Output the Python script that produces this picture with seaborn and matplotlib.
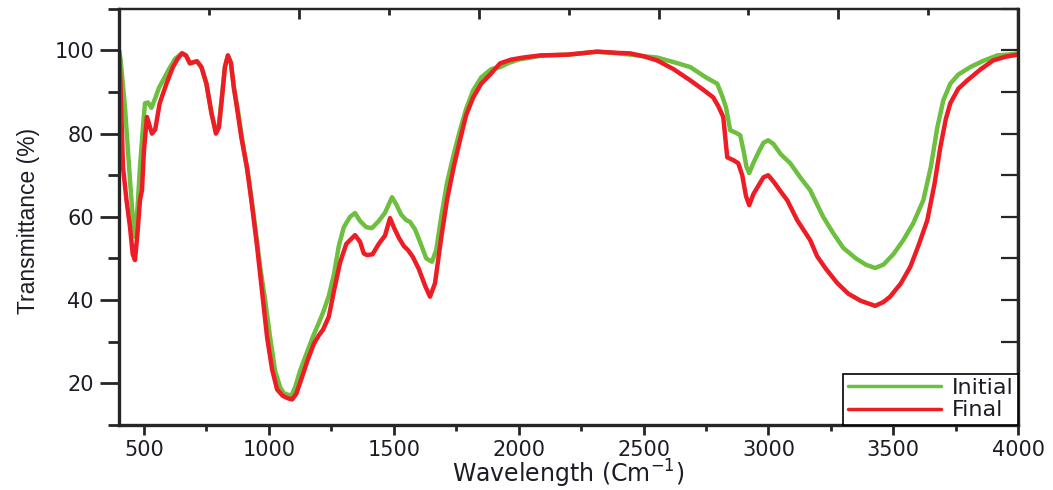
import numpy as np
import pandas as pd
import seaborn as sns
import matplotlib.pyplot as plt
from matplotlib.ticker import MultipleLocator

# FTIR spectra
wn_initial = [400, 406, 424, 444, 455, 464, 474, 484, 494, 504, 516, 530, 545, 560, 576,
              600, 625, 652, 668, 684, 700, 712, 730, 750, 770, 788, 800, 812, 824, 836,
              848, 860, 875, 885, 900, 920, 940, 965, 985, 1005, 1025, 1045, 1060, 1073,
              1090, 1105, 1125, 1150, 1175, 1200, 1217, 1240, 1260, 1280, 1300, 1325,
              1345, 1365, 1390, 1413, 1440, 1465, 1493, 1510, 1530, 1550, 1565, 1585,
              1605, 1630, 1653, 1670, 1690, 1713, 1740, 1765, 1790, 1818, 1850, 1890,
              1926, 1960, 2000, 2086, 2200, 2314, 2400, 2446, 2500, 2554, 2620, 2687,
              2750, 2795, 2815, 2830, 2847, 2870, 2887, 2900, 2912, 2923, 2940, 2960,
              2980, 2999, 3020, 3050, 3087, 3127, 3167, 3219, 3259, 3300, 3350, 3390,
              3427, 3460, 3500, 3540, 3580, 3620, 3650, 3676, 3700, 3728, 3760, 3808,
              3860, 3916, 3960, 4000]
t_initial = [100, 98, 86.3, 68.8, 60, 55.2, 62, 72, 80, 87.3, 87.5, 86.2, 88.5, 91, 92.8,
             95.5, 98, 99.3, 98.8, 96.9, 97.2, 97.4, 96, 92, 85, 80.5, 82, 89, 96, 98.8,
             97, 91, 86, 82, 76, 69, 60, 48, 40, 31, 23, 19, 17.6, 17.3,
             17, 19, 23, 27, 31, 34.5, 37, 41, 46, 53, 57.5, 60,
             60.9, 59, 57.5, 57.3, 59, 61, 64.7, 63, 60.5, 59.2, 58.8, 57,
             54, 50, 49.2, 52, 60, 68.1, 75, 80.8, 86, 90.4, 93.5, 95.5,
             96, 97, 97.8, 98.7, 99, 99.7, 99.3, 99, 98.6, 98.3, 97.2, 96,
             93.5, 92, 89, 86.3, 80.8, 80.2, 79.6, 76, 72, 70.5, 73, 75.5,
             77.8, 78.4, 77.5, 75, 72.9, 69.5, 66.4, 60, 56.1, 52.5, 50, 48.5,
             47.7, 48.5, 51, 54.4, 58.5, 64, 72, 81.5, 88, 92, 94.2, 96,
             97.5, 98.8, 99, 99.3]

wn_final = [400, 406, 416, 430, 444, 455, 464, 474, 484, 492, 500, 512, 522, 532, 545,
            563, 590, 616, 635, 652, 668, 684, 700, 712, 730, 750, 770, 788, 800, 812,
            824, 836, 848, 860, 872, 890, 912, 932, 953, 973, 993, 1013, 1033, 1055,
            1075, 1093, 1110, 1130, 1155, 1180, 1200, 1217, 1240, 1260, 1285, 1310,
            1345, 1365, 1380, 1393, 1415, 1440, 1465, 1485, 1500, 1520, 1540, 1557,
            1575, 1600, 1625, 1645, 1665, 1690, 1713, 1740, 1765, 1790, 1818, 1850,
            1890, 1926, 1970, 2020, 2086, 2200, 2314, 2400, 2446, 2500, 2554, 2620,
            2687, 2740, 2779, 2800, 2819, 2835, 2860, 2879, 2895, 2910, 2923, 2940,
            2960, 2980, 2999, 3020, 3050, 3075, 3115, 3167, 3195, 3230, 3275, 3320,
            3370, 3427, 3460, 3487, 3530, 3568, 3600, 3636, 3665, 3688, 3710, 3728,
            3760, 3796, 3850, 3900, 3950, 4000]
t_final = [100, 92, 72, 64, 57.6, 51, 49.6, 56, 64, 66.4, 76, 84, 82, 80, 81,
           87.3, 92, 96, 98, 99.3, 98.8, 96.9, 97.2, 97.4, 96, 92, 85, 80, 81.5, 88.5,
           96, 98.8, 97, 91, 86.3, 79, 72, 63, 52.8, 42, 31, 23.3, 18.5, 17,
           16.4, 16.1, 17.5, 21, 25.5, 29.5, 31.5, 32.9, 36, 42, 49, 53.5,
           55.6, 54, 51.2, 50.8, 51, 53.5, 55.5, 59.7, 57.5, 55, 53, 52,
           50.5, 47.5, 43.5, 40.8, 44, 55, 64, 72, 78.4, 84.5, 88.7, 92,
           94.5, 96.9, 97.8, 98.3, 98.8, 99, 99.7, 99.4, 99.3, 98.6, 97.6, 95.5,
           92.8, 90.5, 88.7, 86.5, 84, 74.3, 73.6, 72.9, 70, 65, 62.8, 65.5,
           67.5, 69.5, 70, 68.5, 66, 64, 59.2, 54.4, 50.5, 47.5, 44.1, 41.5,
           39.8, 38.6, 39.5, 40.8, 44, 48, 53, 59.2, 68, 76.7, 83.5, 87.3,
           90.8, 92.8, 95.5, 97.6, 98.5, 99]

df = pd.concat([
    pd.DataFrame({'wn': wn_initial, 'T': t_initial, 'sample': 'Initial'}),
    pd.DataFrame({'wn': wn_final, 'T': t_final, 'sample': 'Final'}),
])

sns.set_style('ticks')
plt.rcParams['font.family'] = ['DejaVu Sans']
ink = '#1c1c28'

fig = plt.figure(figsize=(10.53, 4.9), dpi=100)
ax = fig.add_axes([0.113, 0.133, 0.854, 0.849])

sns.lineplot(data=df, x='wn', y='T', hue='sample', estimator=None, sort=False,
             palette={'Initial': '#6cbf3f', 'Final': '#ee1c24'},
             linewidth=3.2, ax=ax)

ax.set_xlim(400, 4000)
ax.set_ylim(10, 110)
ax.set_xticks(range(500, 4001, 500))
ax.xaxis.set_minor_locator(MultipleLocator(250))
ax.set_yticks([20, 40, 60, 80, 100])
ax.yaxis.set_minor_locator(MultipleLocator(10))

ax.tick_params(axis='x', which='major', direction='out', length=7, width=2,
               labelsize=15, labelcolor=ink, pad=4)
ax.tick_params(axis='x', which='minor', direction='out', length=4, width=2)
ax.tick_params(axis='y', which='major', direction='out', length=14, width=2,
               labelsize=15, labelcolor=ink, pad=4)
ax.tick_params(axis='y', which='minor', direction='out', length=8, width=2)

for side in ['left', 'bottom']:
    ax.spines[side].set_linewidth(2.4)
for side in ['top', 'right']:
    ax.spines[side].set_linewidth(1.6)

# mirrored ticks on top and right, pointing inwards
top = ax.secondary_xaxis('top', functions=(lambda v: (v - 400) / 360, lambda v: v * 360 + 400))
top.xaxis.set_major_locator(MultipleLocator(2))
top.xaxis.set_minor_locator(MultipleLocator(1))
top.tick_params(which='major', direction='in', length=7, width=2, labeltop=False)
top.tick_params(which='minor', direction='in', length=4, width=2)
top.spines['top'].set_linewidth(1.6)

right = ax.secondary_yaxis('right')
right.set_yticks(range(10, 111, 10))
right.tick_params(which='major', direction='in', length=12, width=1.6, labelright=False)
right.yaxis.set_minor_locator(plt.NullLocator())
right.spines['right'].set_linewidth(2.4)

ax.set_xlabel('Wavelength (Cm$^{-1}$)', fontsize=17, color=ink)
ax.xaxis.set_label_coords(0.5, -0.08)
ax.set_ylabel('Transmittance (%)', fontsize=16.5, color=ink,
              family=['Liberation Sans', 'DejaVu Sans'])
ax.yaxis.set_label_coords(-0.088, 0.49)

leg = ax.legend(loc='lower right', bbox_to_anchor=(1, 0), borderaxespad=0,
                fancybox=False, edgecolor='black', framealpha=1, fontsize=16,
                handlelength=4.2, borderpad=0.2, labelspacing=0.1, handletextpad=0.5)
leg.get_frame().set_linewidth(1.2)
for line in leg.get_lines():
    line.set_linewidth(2.5)
for text in leg.get_texts():
    text.set_color(ink)

fig.savefig('out.png', dpi=100)
